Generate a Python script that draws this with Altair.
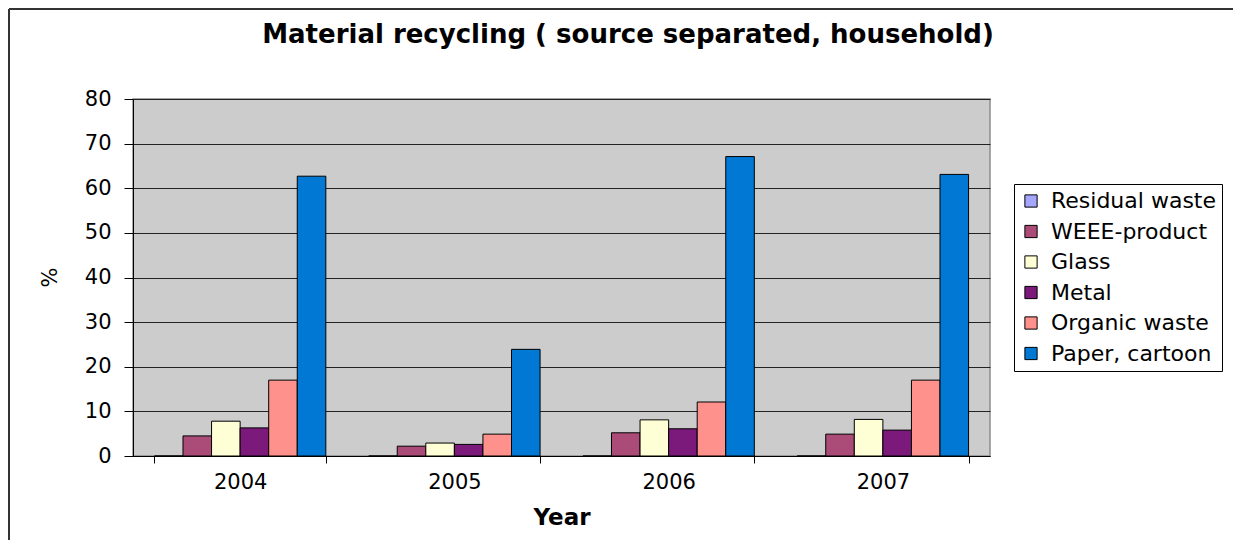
import altair as alt
import pandas as pd

years = ["2004", "2005", "2006", "2007"]
series = ["Residual waste", "WEEE-product", "Glass", "Metal", "Organic waste", "Paper, cartoon"]
colors = ["#A6A6FF", "#AA4C77", "#FFFFD5", "#7B1A7A", "#FF918C", "#0078D4"]

residual = [0, 0, 0, 0]
weee = [4.5, 2.2, 5.2, 4.9]
glass = [7.8, 2.9, 8.1, 8.2]
metal = [6.3, 2.6, 6.1, 5.8]
organic = [17.0, 4.9, 12.1, 17.0]
paper = [62.7, 23.9, 67.1, 63.1]

title_text = "Material recycling ( source separated, household)"

values = [residual, weee, glass, metal, organic, paper]
rows = []
for s, vals in zip(series, values):
    for y, v in zip(years, vals):
        rows.append({"Year": y, "Series": s, "Value": v})
df = pd.DataFrame(rows)

FONT = "DejaVu Sans"
W, H = 857, 357

bars = alt.Chart(df).mark_bar(stroke="black", strokeWidth=1).encode(
    x=alt.X("Year:N", sort=years,
            scale=alt.Scale(paddingInner=0.2, paddingOuter=0.1),
            axis=alt.Axis(title="Year", labelAngle=0, tickBand="extent",
                          labelFont=FONT, labelFontSize=21, labelColor="black",
                          labelPadding=8, tickSize=7, tickColor="black",
                          domainColor="black", titleFont=FONT, titleFontSize=23,
                          titleFontWeight="bold", titleColor="black",
                          titleY=68, titleBaseline="alphabetic")),
    xOffset=alt.XOffset("Series:N", sort=series,
                        scale=alt.Scale(domain=series, paddingInner=0, paddingOuter=0)),
    y=alt.Y("Value:Q", scale=alt.Scale(domain=[0, 80], nice=False),
            axis=alt.Axis(title="%", values=list(range(0, 81, 10)),
                          labelFont=FONT, labelFontSize=21, labelColor="black",
                          labelPadding=13, tickSize=9, tickColor="black",
                          domainColor="black", gridColor="#222222", gridWidth=1.2,
                          titleFont=FONT, titleFontSize=21, titleFontWeight="normal",
                          titleColor="black", titleX=-83, titleY=178,
                          titleAlign="center", titleBaseline="middle")),
    color=alt.Color("Series:N", sort=series,
                    scale=alt.Scale(domain=series, range=colors),
                    legend=alt.Legend(title=None, orient="none", legendX=881, legendY=85,
                                      symbolType="square", symbolSize=150,
                                      symbolStrokeColor="black", symbolStrokeWidth=1,
                                      labelFont=FONT, labelFontSize=22, labelColor="black",
                                      labelOffset=9, rowPadding=8.5, padding=6,
                                      strokeColor="black", fillColor="white",
                                      labelLimit=400)),
)

one = pd.DataFrame({"a": [0]})
frame_top = alt.Chart(one).mark_rule(color="#333333", strokeWidth=2).encode(
    x=alt.value(-124), x2=alt.value(W + 243), y=alt.value(-90)
)
frame_left = alt.Chart(one).mark_rule(color="#333333", strokeWidth=2).encode(
    x=alt.value(-124), y=alt.value(-90), y2=alt.value(H + 84)
)
title = alt.Chart(one).mark_text(font=FONT, fontSize=26, fontWeight="bold", color="black",
                                 align="center", baseline="middle").encode(
    x=alt.value(495), y=alt.value(-64), text=alt.value(title_text)
)

chart = alt.layer(bars, frame_top, frame_left, title).properties(
    width=W, height=H,
    autosize=alt.AutoSizeParams(type="none"),
    padding={"left": 125, "top": 91, "right": 243, "bottom": 84},
).configure(background="white").configure_view(
    fill="#CCCCCC", stroke="#8C8C8C", strokeWidth=1.5
)

chart.save("out.html", embed_options={"renderer": "svg", "actions": False})
